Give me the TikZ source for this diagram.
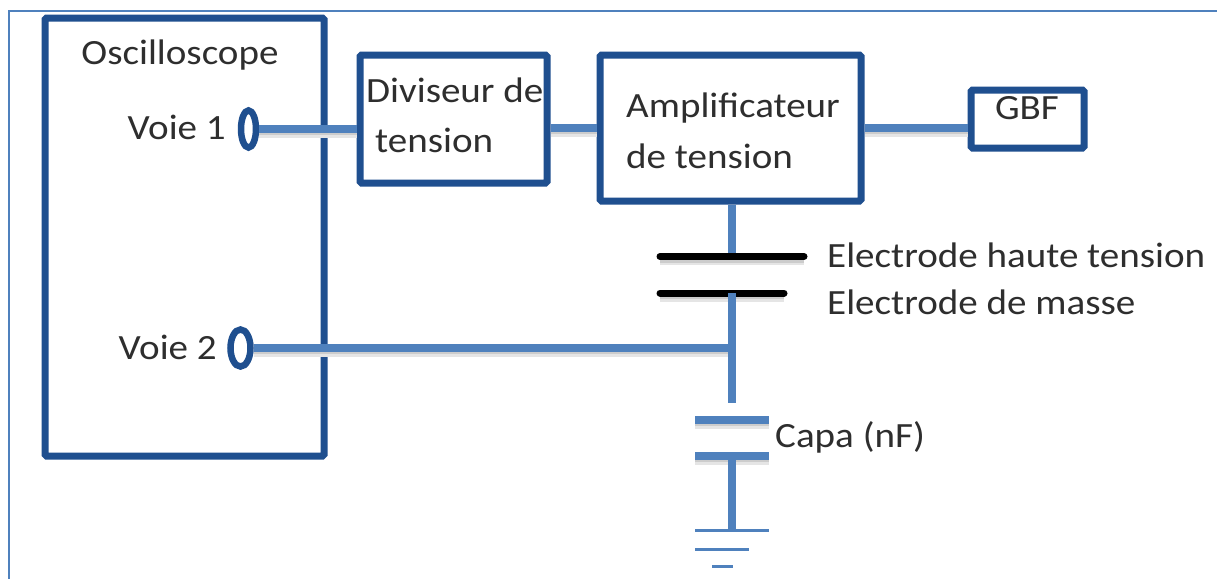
\documentclass[tikz,border=0pt]{standalone}
\usepackage{fontspec}
\setmainfont[FakeStretch=1.1]{Carlito}
\usetikzlibrary{shapes.geometric}
\definecolor{navy}{HTML}{1F4F8F}
\definecolor{wire}{HTML}{4F81BD}
\definecolor{ink}{HTML}{2E2E2E}
\tikzset{
  x=1pt,y=-1pt,
  blockbox/.style={draw=navy,line width=7pt,rounded corners=1.5pt,fill=white,inner sep=0pt},
  port/.style={ellipse,draw=navy,line width=6.5pt,inner sep=0pt,minimum height=37pt,fill=white},
  lbl/.style={font=\fontsize{35.5}{38}\selectfont,text=ink,inner sep=0pt},
  softshadow/.style={preaction={draw=black!10,line width=7pt,transform canvas={yshift=-5pt}},preaction={draw=black!20,line width=4pt,transform canvas={yshift=-4pt}}},
  wireline/.style={draw=wire,line width=7.5pt,softshadow},
  vwire/.style={draw=wire,line width=7.5pt},
  plate/.style={draw=wire,line width=7.5pt,softshadow},
  electrode/.style={draw=black,line width=7pt,line cap=round,softshadow},
  earth/.style={draw=wire,line width=3pt},
  frameline/.style={draw=wire,line width=2.2pt}
}
\begin{document}
\begin{tikzpicture}
\useasboundingbox (0,0) rectangle (1217,579);
\fill[white] (0,0) rectangle (1217,579);
\coordinate (fa) at (1217,11);
\coordinate (fb) at (9,11);
\coordinate (fc) at (9,579);
\draw[frameline] (fa) -- (fb) -- (fc);
% blocks
\node[blockbox,minimum width=279pt,minimum height=438pt] (osc) at (184.5,237) {};
\node[blockbox,minimum width=187pt,minimum height=128pt] (div) at (453.5,119) {};
\node[blockbox,minimum width=261pt,minimum height=146pt] (amp) at (730.5,128) {};
\node[blockbox,minimum width=113pt,minimum height=58pt] (gbf) at (1027.5,119) {};
% ports
\node[port,minimum width=15pt] (v1) at (248.5,129) {};
\node[port,minimum width=20pt] (v2) at (240.5,348) {};
% junction and free ends
\coordinate (j) at (732,348);
\coordinate (ehl) at (660,256.5);
\coordinate (ehr) at (804,256.5);
\coordinate (eh) at (732,256.5);
\coordinate (eml) at (660,293);
\coordinate (emr) at (784,293);
\coordinate (em) at (732,293);
\coordinate (ctop) at (732,403);
\coordinate (c1l) at (695,420);
\coordinate (c1r) at (769,420);
\coordinate (c2l) at (695,456);
\coordinate (c2r) at (769,456);
\coordinate (c2) at (732,456);
\coordinate (g1l) at (695,530);
\coordinate (g1r) at (769,530);
\coordinate (g1) at (732,530);
\coordinate (g2l) at (695,549);
\coordinate (g2r) at (749,549);
\coordinate (g3l) at (712,566);
\coordinate (g3r) at (733,566);
% connectors
\draw[wireline] (v1.east) -- (div.west |- v1.east);
\draw[wireline] (div.east |- 0,128) -- (amp.west |- 0,128);
\draw[wireline] (amp.east |- 0,128) -- (gbf.west |- 0,128);
\draw[wireline] (v2.east) -- (j);
\draw[vwire] (amp.south -| eh) -- (eh);
\draw[electrode] (ehl) -- (ehr);
\draw[electrode] (eml) -- (emr);
\draw[vwire] (em) -- (ctop);
\draw[plate] (c1l) -- (c1r);
\draw[plate] (c2l) -- (c2r);
\draw[vwire] (c2) -- (g1);
\draw[earth] (g1l) -- (g1r);
\draw[earth] (g2l) -- (g2r);
\draw[earth] (g3l) -- (g3r);
% labels
\node[lbl] (tosc) at (180,55) {Oscilloscope};
\node[lbl,anchor=east] (tv1) at (226,127) {Voie 1};
\node[lbl,anchor=east] (tv2) at (217,347) {Voie 2};
\node[lbl,anchor=west] (td1) at (366,90) {Diviseur de};
\node[lbl,anchor=west] (td2) at (375,140) {tension};
\node[lbl,anchor=west] (ta1) at (626,108) {Amplificateur};
\node[lbl,anchor=west] (ta2) at (626,156) {de tension};
\node[lbl] (tg) at (1027,108) {GBF};
\node[lbl,anchor=west] (te1) at (827,255) {Electrode haute tension};
\node[lbl,anchor=west] (te2) at (827,302) {Electrode de masse};
\node[lbl,anchor=west] (tc) at (775,437) {Capa (nF)};
\end{tikzpicture}
\end{document}
